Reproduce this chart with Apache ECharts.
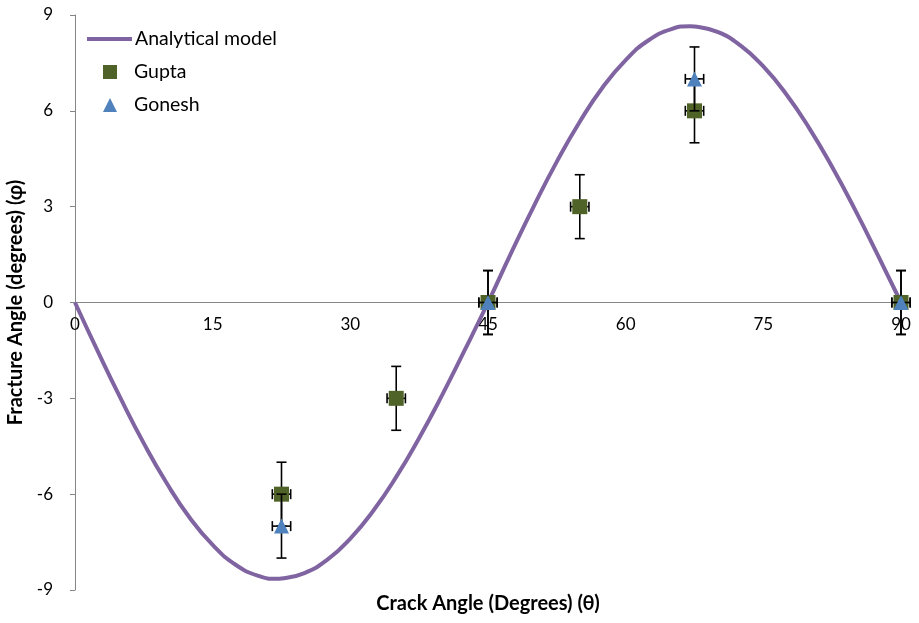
<!DOCTYPE html>
<html><head><meta charset="utf-8">
<script src="https://cdn.jsdelivr.net/npm/echarts@6/dist/echarts.min.js"></script>
<style>html,body{margin:0;padding:0;background:#fff}#c{width:919px;height:623px}</style>
</head><body><div id="c"></div>
<script>
var modelTheta = [0,2.5,5,7.5,10,12.5,15,17.5,20,22,22.5,25,27.5,30,32.5,35,37.5,40,42.5,45,47.5,50,52.5,55,57.5,60,62.5,65,67,67.5,70,72.5,75,77.5,80,82.5,85,87.5,90];
var modelPhi = [0,-1.54,-3.02,-4.41,-5.66,-6.74,-7.59,-8.21,-8.56,-8.65,-8.64,-8.47,-8.05,-7.39,-6.52,-5.46,-4.24,-2.90,-1.47,0,1.54,3.02,4.41,5.66,6.74,7.59,8.21,8.56,8.65,8.64,8.47,8.05,7.39,6.52,5.46,4.24,2.90,1.47,0];
var guptaTheta = [22.5,35,45,55,67.5,90];
var guptaPhi = [-6,-3,0,3,6,0];
var guptaXErr = [1,1,1,1,1,1];
var guptaYErr = [1,1,1,1,1,1];
var goneshTheta = [22.5,45,67.5,90];
var goneshPhi = [-7,0,7,0];
var goneshXErr = [1,1,1,1];
var goneshYErr = [1,1,1,1];
var xTicks = [0,15,30,45,60,75,90];
var yTicks = [-9,-6,-3,0,3,6,9];

var FONT = 'Lato';
var GRID = {left:75,right:18,top:15,bottom:33};
var plotH = 623 - GRID.top - GRID.bottom;
function zip(a,b){return a.map(function(v,i){return [v,b[i]];});}
function errData(x,y,ex,ey){return x.map(function(v,i){return [v,y[i],ex[i],ey[i]];});}
function errRender(params, api){
  var x=api.value(0), y=api.value(1), ex=api.value(2), ey=api.value(3);
  var top=api.coord([x,y+ey]), bot=api.coord([x,y-ey]);
  var left=api.coord([x-ex,y]), right=api.coord([x+ex,y]);
  var c=5, st={stroke:'#000',lineWidth:1.6};
  return {type:'group',children:[
    {type:'line',shape:{x1:top[0],y1:top[1],x2:bot[0],y2:bot[1]},style:st},
    {type:'line',shape:{x1:top[0]-c,y1:top[1],x2:top[0]+c,y2:top[1]},style:st},
    {type:'line',shape:{x1:bot[0]-c,y1:bot[1],x2:bot[0]+c,y2:bot[1]},style:st},
    {type:'line',shape:{x1:left[0],y1:left[1],x2:right[0],y2:right[1]},style:st},
    {type:'line',shape:{x1:left[0],y1:left[1]-c,x2:left[0],y2:left[1]+c},style:st},
    {type:'line',shape:{x1:right[0],y1:right[1]-c,x2:right[0],y2:right[1]+c},style:st}
  ]};
}
var chart = echarts.init(document.getElementById('c'));
chart.setOption({
  animation:false,
  backgroundColor:'#fff',
  title:{text:'Crack Angle (Degrees) (θ)',left:488,top:594,textAlign:'center',padding:0,
    textStyle:{fontFamily:FONT,fontSize:20,fontWeight:'bold',color:'#000'}},
  grid:{left:GRID.left,right:GRID.right,top:GRID.top,bottom:GRID.bottom,containLabel:false,outerBoundsMode:'none'},
  legend:[{
    orient:'vertical', left:87, top:29, itemWidth:45, itemHeight:4, padding:0,
    textStyle:{fontFamily:FONT,fontSize:19.5,color:'#000',padding:[0,0,0,-2]},
    data:[{name:'Analytical model',icon:'rect'}]
  },{
    orient:'vertical', left:103, top:62, itemWidth:14, itemHeight:14, itemGap:13, padding:0,
    textStyle:{fontFamily:FONT,fontSize:19.5,color:'#000',padding:[0,0,0,12]},
    data:[{name:'Gupta',icon:'rect'},{name:'Gonesh',icon:'triangle'}]
  }],
  xAxis:{
    type:'value', min:0, max:90, interval:15, position:'bottom', offset:-plotH/2,
    axisLine:{onZero:false,lineStyle:{color:'#868686',width:1}},
    axisTick:{show:false},
    splitLine:{show:false},
    axisLabel:{fontFamily:FONT,fontSize:17,color:'#000',margin:14,
      formatter:function(v){return xTicks.indexOf(v)>=0?String(v):'';}}
  },
  yAxis:{
    type:'value', min:-9, max:9, interval:3,
    axisLine:{show:true,onZero:false,lineStyle:{color:'#868686',width:1}},
    axisTick:{show:true,length:5,lineStyle:{color:'#868686'}},
    splitLine:{show:false},
    axisLabel:{fontFamily:FONT,fontSize:17,color:'#000',margin:22,
      formatter:function(v){return yTicks.indexOf(v)>=0?String(v):'';}},
    name:'Fracture Angle (degrees) (φ)', nameLocation:'middle', nameGap:48, nameRotate:90,
    nameTextStyle:{fontFamily:FONT,fontSize:20,fontWeight:'bold',color:'#000'}
  },
  series:[
    {name:'Analytical model',type:'line',data:zip(modelTheta,modelPhi),smooth:true,showSymbol:false,
      lineStyle:{color:'#8064a2',width:4},itemStyle:{color:'#8064a2'},z:2},
    {name:'GuptaErr',type:'custom',data:errData(guptaTheta,guptaPhi,guptaXErr,guptaYErr),renderItem:errRender,z:3},
    {name:'Gupta',type:'scatter',data:zip(guptaTheta,guptaPhi),symbol:'rect',symbolSize:15,
      itemStyle:{color:'#4f6228',opacity:1},z:4},
    {name:'GoneshErr',type:'custom',data:errData(goneshTheta,goneshPhi,goneshXErr,goneshYErr),renderItem:errRender,z:5},
    {name:'Gonesh',type:'scatter',data:zip(goneshTheta,goneshPhi),symbol:'triangle',symbolSize:15,
      itemStyle:{color:'#4f81bd',opacity:1},z:6}
  ]
});
</script></body></html>
